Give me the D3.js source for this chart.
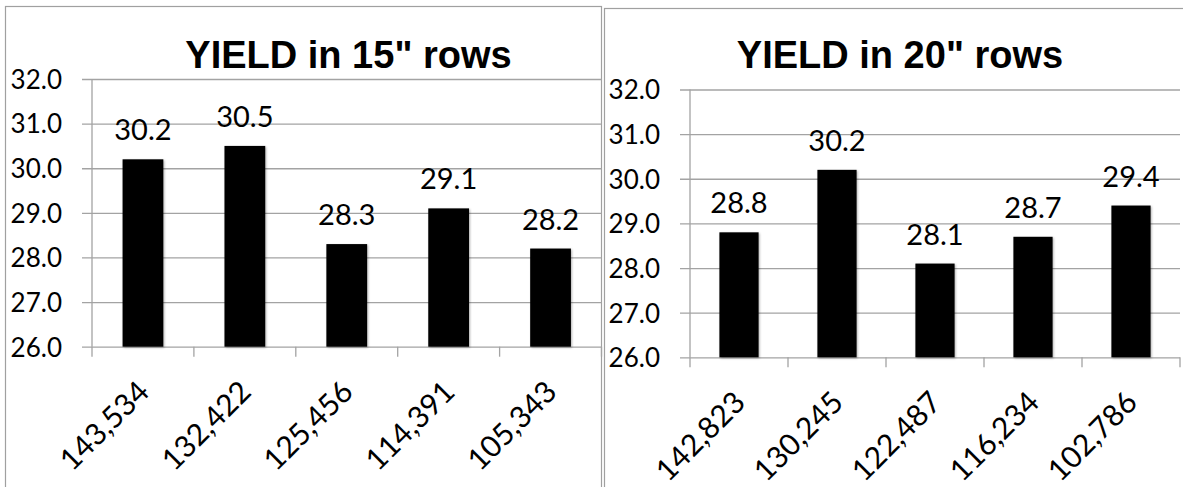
<!DOCTYPE html>
<html>
<head>
<meta charset="utf-8">
<script src="https://cdn.jsdelivr.net/npm/d3@7"></script>
<style>
  html, body { margin: 0; padding: 0; background: #fff; }
  svg { display: block; }
</style>
</head>
<body>
<svg id="chart" width="1183" height="487"></svg>
<script>
// Yield by plant population, two row spacings
const title15 = "YIELD in 15\" rows";
const populations15 = ["143,534", "132,422", "125,456", "114,391", "105,343"];
const yield15 = [30.2, 30.5, 28.3, 29.1, 28.2];

const title20 = "YIELD in 20\" rows";
const populations20 = ["142,823", "130,245", "122,487", "116,234", "102,786"];
const yield20 = [28.8, 30.2, 28.1, 28.7, 29.4];

const yTickValues = [26, 27, 28, 29, 30, 31, 32];
const yDomain = [26, 32];

const svg = d3.select("#chart");

const defs = svg.append("defs");
defs.append("filter")
    .attr("id", "barShadow")
    .attr("x", "-20%").attr("y", "-20%").attr("width", "140%").attr("height", "140%")
  .append("feDropShadow")
    .attr("dx", 1).attr("dy", 1).attr("stdDeviation", 1.2)
    .attr("flood-color", "#000").attr("flood-opacity", 0.3);

const gridColor = "#a3a3a3";
const borderColor = "#a0a0a0";
const bodyFont = "Lato, 'Open Sans', sans-serif";

function drawPanel(opts) {
  const { frame, plot, title, titleX, categories, values } = opts;

  // panel frame
  svg.append("rect")
    .attr("x", frame.x).attr("y", frame.y)
    .attr("width", frame.w).attr("height", frame.h)
    .attr("fill", "#fff")
    .attr("stroke", borderColor).attr("stroke-width", 1.2);

  const x = d3.scaleBand()
    .domain(categories)
    .range([plot.x0, plot.x1])
    .paddingInner(0.6)
    .paddingOuter(0.3);

  const y = d3.scaleLinear()
    .domain(yDomain)
    .range([plot.yBottom, plot.yTop]);

  // gridlines + value-axis labels
  const yAxis = d3.axisLeft(y)
    .tickValues(yTickValues)
    .tickFormat(d3.format(".1f"))
    .tickSizeInner(-(plot.x1 - plot.x0 + 10))
    .tickSizeOuter(0)
    .tickPadding(20);

  const gy = svg.append("g")
    .attr("transform", `translate(${plot.x0 - 10},0)`)
    .call(yAxis);
  gy.select(".domain").remove();
  gy.selectAll(".tick line")
    .attr("stroke", gridColor).attr("stroke-width", 1.3);
  gy.selectAll(".tick text")
    .attr("font-family", bodyFont)
    .attr("font-size", 26)
    .attr("fill", "#000")
    .attr("dy", "0.36em");

  // vertical axis line
  svg.append("line")
    .attr("x1", plot.x0).attr("x2", plot.x0)
    .attr("y1", y(yDomain[1])).attr("y2", y(yDomain[0]))
    .attr("stroke", gridColor).attr("stroke-width", 1.3);

  // category tick marks at band boundaries
  const bounds = d3.range(categories.length + 1).map(i => plot.x0 + i * x.step());
  svg.append("g").selectAll("line")
    .data(bounds)
    .join("line")
    .attr("x1", d => d).attr("x2", d => d)
    .attr("y1", y(yDomain[0])).attr("y2", y(yDomain[0]) + 10)
    .attr("stroke", gridColor).attr("stroke-width", 1.3);

  const data = categories.map((c, i) => ({ c, v: values[i] }));

  // bars
  svg.append("g").selectAll("rect")
    .data(data)
    .join("rect")
    .attr("x", d => x(d.c))
    .attr("y", d => y(d.v))
    .attr("width", x.bandwidth())
    .attr("height", d => y(yDomain[0]) - y(d.v))
    .attr("fill", "#000")
    .attr("filter", "url(#barShadow)");

  // value labels
  svg.append("g").selectAll("text")
    .data(data)
    .join("text")
    .attr("x", d => x(d.c) + x.bandwidth() / 2)
    .attr("y", d => y(d.v) - 19)
    .attr("text-anchor", "middle")
    .attr("font-family", bodyFont)
    .attr("font-size", 29)
    .attr("fill", "#000")
    .text(d => d.v.toFixed(1));

  // rotated category labels
  svg.append("g").selectAll("text")
    .data(data)
    .join("text")
    .attr("transform", d => {
      const cx = x(d.c) + x.bandwidth() / 2 + 8;
      const cy = y(yDomain[0]) + 47;
      return `translate(${cx},${cy}) rotate(-45)`;
    })
    .attr("text-anchor", "end")
    .attr("font-family", bodyFont)
    .attr("font-size", 30)
    .attr("fill", "#000")
    .text(d => d.c);

  // title
  svg.append("text")
    .attr("x", titleX).attr("y", 68)
    .attr("text-anchor", "middle")
    .attr("font-family", "'Liberation Sans', Arial, sans-serif")
    .attr("font-weight", "bold")
    .attr("font-size", 38)
    .attr("fill", "#000")
    .text(title);
}

drawPanel({
  frame: { x: 5.5, y: 6.5, w: 596, h: 520 },
  plot: { x0: 92, x1: 601.5, yTop: 79, yBottom: 346.7 },
  title: title15,
  titleX: 348.5,
  categories: populations15,
  values: yield15
});

drawPanel({
  frame: { x: 604.5, y: 8.5, w: 620, h: 520 },
  plot: { x0: 690, x1: 1180, yTop: 89.5, yBottom: 357.3 },
  title: title20,
  titleX: 900,
  categories: populations20,
  values: yield20
});
</script>
</body>
</html>
